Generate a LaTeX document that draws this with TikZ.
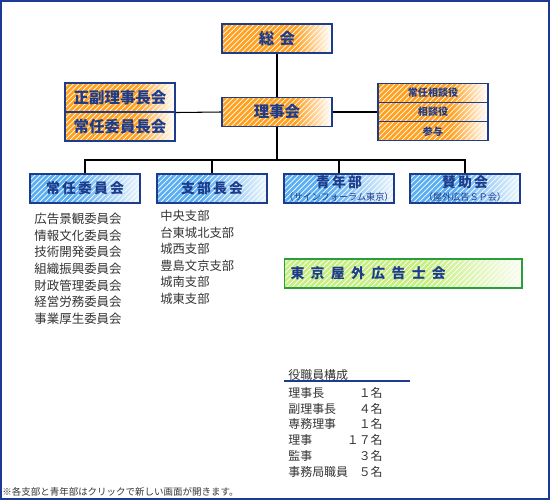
\documentclass[tikz,border=0pt]{standalone}
\usepackage{fontspec}
\setmainfont{Noto Sans CJK JP}
\usepackage{xcolor}
\usetikzlibrary{patterns, positioning}
\definecolor{titleblue}{HTML}{1E3C8C}
\definecolor{frameblue}{HTML}{1C3A94}
\definecolor{boxorange}{HTML}{FFA01E}
\definecolor{boxblue}{HTML}{5AAEF2}
\definecolor{boxgreen}{HTML}{C6EE80}
\definecolor{edgegreen}{HTML}{2A9E3C}
\definecolor{listgray}{HTML}{333333}
\colorlet{bluelight}{white!88!boxblue}
\colorlet{greenlight}{white!90!boxgreen}

\pgfdeclarehorizontalshading{orangefade}{100bp}{color(0bp)=(boxorange); color(25bp)=(boxorange); color(58bp)=(boxorange); color(75bp)=(white); color(100bp)=(white)}
\pgfdeclarehorizontalshading{bluefade}{100bp}{color(0bp)=(boxblue); color(25bp)=(boxblue); color(45bp)=(boxblue); color(75bp)=(bluelight); color(100bp)=(bluelight)}
\pgfdeclarehorizontalshading{greenfade}{100bp}{color(0bp)=(boxgreen); color(25bp)=(boxgreen); color(55bp)=(boxgreen); color(75bp)=(greenlight); color(100bp)=(greenlight)}

\newcommand{\tgap}{\hspace{1.2pt}}
\newcommand{\wgap}{\hspace{3pt}}
\newcommand{\subfont}{\mdseries\fontsize{5.2}{6}\selectfont}

\tikzset{
  stripes/.style={pattern=north east lines, pattern color=white, fill opacity=0.4, text opacity=1},
  orangebox/.style={preaction={shade, shading=orangefade, fill opacity=1}, stripes, draw=titleblue, line width=0.6pt,
    text=titleblue, inner sep=0pt, minimum width=2.2cm, minimum height=0.58cm,
    font=\bfseries\fontsize{8.8}{10}\selectfont},
  orangesmall/.style={orangebox, minimum height=0.386cm, font=\bfseries\fontsize{5.7}{6}\selectfont},
  bluebox/.style={preaction={shade, shading=bluefade, fill opacity=1}, stripes, draw=titleblue, line width=0.6pt,
    text=titleblue, inner sep=0pt, minimum width=2.2cm, minimum height=0.58cm, align=center,
    font=\bfseries\fontsize{7.9}{8.5}\selectfont},
  greenbox/.style={preaction={shade, shading=greenfade, fill opacity=1}, stripes, draw=edgegreen, line width=0.6pt,
    text=titleblue, inner sep=0pt, minimum width=4.76cm, minimum height=0.58cm,
    font=\bfseries\fontsize{7.9}{8.5}\selectfont},
  listtext/.style={text=listgray, inner sep=0pt, align=left},
  treeline/.style={black, line width=0.6pt}
}

\begin{document}
\begin{tikzpicture}[x=0.02cm, y=-0.02cm]
  \useasboundingbox (0,0) rectangle (550,500);
  % Frame
  \draw[frameblue, line width=1.1pt] (0.8,0.8) rectangle (549,499);

  % Top of the tree
  \node[orangebox] (sokai) at (277,38.5) {総\wgap 会};
  \node[orangebox] (rijikai) at (277,112) {理事会};

  % Left and right boards
  \node[orangebox] (seifuku) at (120,97.5) {正副理事長会};
  \node[orangebox] (jonincho) at (120,126.5) {常任委員長会};
  \node[orangesmall] (joninsodan) at (433,92.7) {常任相談役};
  \node[orangesmall] (sodan) at (433,112) {相談役};
  \node[orangesmall] (sanyo) at (433,131.3) {参与};

  % Branches
  \node[bluebox] (jonin) at (85,188.5) {常\tgap 任\tgap 委\tgap 員\tgap 会};
  \node[bluebox] (shibu) at (212,188.5) {支\tgap 部\tgap 長\tgap 会};
  \node[bluebox] (seinen) at (339,188.5) {青\tgap 年\tgap 部\\[-1.5pt]{\subfont （サインフォーラム東京）}};
  \node[bluebox] (sanjo) at (465,188.5) {賛\tgap 助\tgap 会\\[-1.5pt]{\subfont （屋外広告ＳＰ会）}};
  \coordinate (bus) at (277,160);

  % Connectors
  \draw[treeline] (sokai) -- (rijikai);
  \draw[treeline] (seifuku.south east) -- (rijikai.west);
  \draw[treeline] (rijikai.east) -- (sodan.west);
  \draw[treeline] (rijikai.south) -- (bus);
  \draw[treeline] (jonin.north) |- (bus);
  \draw[treeline] (shibu.north) |- (bus);
  \draw[treeline] (seinen.north) |- (bus);
  \draw[treeline] (sanjo.north) |- (bus);

  % Committees and branch offices
  \node[listtext, anchor=north west, font=\fontsize{7.1}{9.5}\selectfont] (joninlist) at (34,212.7)
    {広告景観委員会\\情報文化委員会\\技術開発委員会\\組織振興委員会\\財政管理委員会\\経営労務委員会\\事業厚生委員会};
  \node[listtext, anchor=north west, font=\fontsize{7}{9.4}\selectfont] (shibulist) at (160,209.8)
    {中央支部\\台東城北支部\\城西支部\\豊島文京支部\\城南支部\\城東支部};

  % Association
  \node[greenbox, text width=4.5cm, align=left] (shikai) at (403,273.5) {東\hspace{3.6pt}京\hspace{3.6pt}屋\hspace{3.6pt}外\hspace{3.6pt}広\hspace{3.6pt}告\hspace{3.6pt}士\hspace{3.6pt}会};

  % Officers
  \node[listtext, anchor=west, font=\fontsize{6.8}{8}\selectfont] (yakuin) at (288,375) {役職員構成};
  \draw[titleblue, line width=0.6pt] (284,381) -- (410,381);
  \node[listtext, anchor=north west, font=\fontsize{6.8}{8.96}\selectfont] (yakuname) at (288,387)
    {理事長\\副理事長\\専務理事\\理事\\監事\\事務局職員};
  \node[listtext, anchor=north east, align=right, font=\fontsize{6.8}{8.96}\selectfont] (yakunum) at (383,387)
    {１名\\４名\\１名\\１７名\\３名\\５名};

  % Note
  \node[listtext, anchor=west, font=\fontsize{5.4}{6}\selectfont] (note) at (2,492) {※各支部と青年部はクリックで新しい画面が開きます。};
\end{tikzpicture}
\end{document}
